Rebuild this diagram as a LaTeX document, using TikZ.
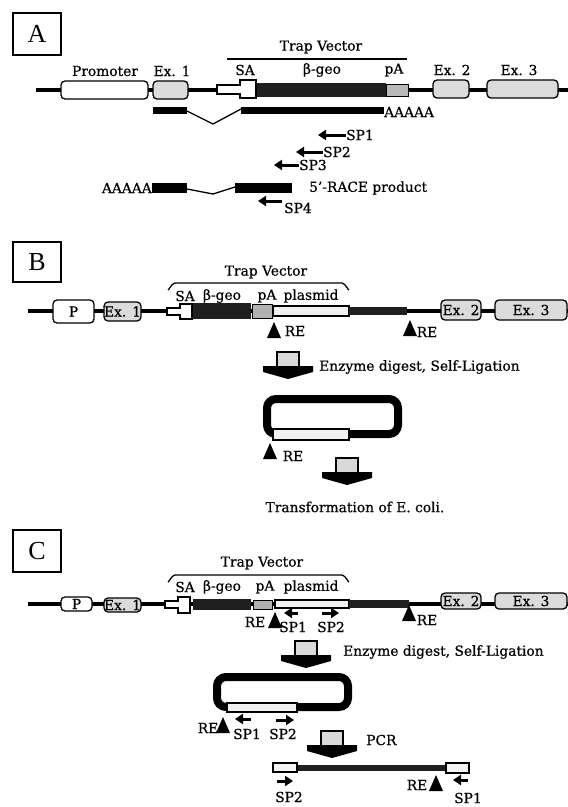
\documentclass[tikz,border=0pt]{standalone}
\usepackage{fontspec}
\setmainfont{DejaVu Serif}[FakeBold=0.6]
\newfontfamily\panelfont{Liberation Serif}
\usetikzlibrary{arrows.meta,positioning}

\tikzset{
  reSite/.pic={\fill[black] (0,0) -- (7,16) -- (-7,16) -- cycle;},
  blockDown/.pic={
    \fill[black] (-25,14) -- (25,14) -- (25,20) -- (0,27) -- (-25,20) -- cycle;
    \draw[fill=gray!30,line width=1.2pt] (-11,0) rectangle (11,15);
  }
}

\begin{document}
\begin{tikzpicture}[
  x=1pt,y=-1pt,
  font=\fontsize{13.8}{15}\selectfont,
  chrom/.style={line width=3.5pt},
  exon/.style={draw,line width=1.3pt,rounded corners=4pt,fill=gray!28,
               inner sep=0pt},
  promo/.style={exon,fill=white},
  sabox/.style={draw,line width=1.2pt,fill=white},
  geo/.style={fill=black!88},
  pa/.style={draw=black,line width=1pt,fill=gray!60},
  plas/.style={draw,line width=1.2pt,fill=gray!12},
  tag/.style={inner sep=0pt},
  panel/.style={draw,line width=1.2pt,minimum width=48pt,minimum height=42pt,
                font=\panelfont\fontsize{26}{28}\selectfont},
  primer/.style={line width=3pt,-{Triangle[length=8pt,width=10pt]}},
  loop/.style={line width=8pt,rounded corners=9pt}
]
\useasboundingbox (0,0) rectangle (568,807);

% panel A
\node[panel] (boxA) at (37,34) {A};
\node[tag] (trapA) at (321,47) {Trap Vector};
\draw[line width=1.3pt] (227,59) -- (407,59);
\draw[chrom] (36,90) -- (568,90);
\node[promo,minimum width=87pt,minimum height=18pt] (promA) at (104.5,90) {};
\node[exon,minimum width=35pt,minimum height=18pt] (exA1) at (170.5,90) {};
\node[exon,minimum width=36pt,minimum height=18pt] (exA2) at (451,89) {};
\node[exon,minimum width=71pt,minimum height=18pt] (exA3) at (522.5,89) {};
\draw[sabox] (217,85) -- (240,85) -- (240,80) -- (256,80) -- (256,98)
  -- (240,98) -- (240,94) -- (217,94) -- cycle;
\fill[geo] (257,83) rectangle (386,97);
\draw[pa,fill=gray!55] (386,84) rectangle (408,96);
\node[tag] (lbPromA) at (105,71) {Promoter};
\node[tag] (lbEx1A) at (172,71) {Ex. 1};
\node[tag] (lbSAA) at (245,70) {SA};
\node[tag] (lbGeoA) at (322,70) {β-geo};
\node[tag] (lbPaA) at (394,70) {pA};
\node[tag] (lbEx2A) at (452,70) {Ex. 2};
\node[tag] (lbEx3A) at (519,70) {Ex. 3};
% spliced transcript
\fill (153,107) rectangle (187,114);
\draw[line width=1.3pt] (187,111) -- (213,124) -- (241,109);
\fill (241,107) rectangle (384,114);
\node[tag,anchor=west] (polyA) at (384,112) {AAAAA};
\node[tag,anchor=west] (spA1) at (346,135) {SP1};
\node[tag,anchor=west] (spA2) at (323,152) {SP2};
\node[tag,anchor=west] (spA3) at (299,165) {SP3};
\draw[primer] (spA1.west) -- ++(-28,0);
\draw[primer] (spA2.west) -- ++(-27,0);
\draw[primer] (spA3.west) -- ++(-25,0);
% 5'-RACE product
\node[tag,anchor=east] (polyR) at (152,188) {AAAAA};
\fill (152,183) rectangle (187,193);
\draw[line width=1.3pt] (187,189) -- (213,194) -- (235,187);
\fill (235,183) rectangle (292,193);
\node[tag,anchor=west] (race) at (309,188) {5’-RACE product};
\node[tag,anchor=west] (spA4) at (284,208) {SP4};
\draw[primer] (282,201) -- (258,201);

% panel B
\node[panel,minimum height=40pt] (boxB) at (37,262) {B};
\node[tag] (trapB) at (266,272) {Trap Vector};
\draw[line width=1.3pt] (168,289) to[out=-90,in=180] (175,283) -- (342,283)
  to[out=0,in=-90] (349,289);
\node[tag] (lbSAB) at (185,296) {SA};
\node[tag] (lbGeoB) at (222,296) {β-geo};
\node[tag] (lbPaB) at (267,296) {pA};
\node[tag] (lbPlB) at (311,296) {plasmid};
\draw[chrom] (28,311) -- (568,311);
\node[promo,minimum width=41pt,minimum height=23pt] (promB) at (73.5,311.5) {P};
\node[exon,minimum width=35pt,minimum height=19pt] (exB1) at (122.5,311.5) {Ex. 1};
\draw[sabox] (167,308) -- (180,308) -- (180,304) -- (192,304) -- (192,319)
  -- (180,319) -- (180,315) -- (167,315) -- cycle;
\fill[geo] (193,303) rectangle (251,319);
\draw[pa] (252,304) rectangle (272,318);
\draw[plas] (273,306) rectangle (349,316);
\fill[geo] (349,307) rectangle (407,315);
\node[exon,minimum width=40pt,minimum height=20pt] (exB2) at (461,310) {Ex. 2};
\node[exon,minimum width=72pt,minimum height=20pt] (exB3) at (531,310) {Ex. 3};
\pic at (274,322) {reSite};
\node[tag] (reB1) at (295,331) {RE};
\pic at (410,320) {reSite};
\node[tag] (reB2) at (427,332) {RE};
\pic at (288,352) {blockDown};
\node[tag,anchor=west] (digB) at (319,367) {Enzyme digest, Self-Ligation};
% circularised clone
\draw[loop] (340,434) -- (398,434) -- (398,399) -- (267,399) -- (267,434)
  -- (285,434);
\draw[plas] (273,429) rectangle (349,440);
\pic at (270,443) {reSite};
\node[tag] (reB3) at (293,456) {RE};
\pic at (347,458) {blockDown};
\node[tag] (trans) at (355,507) {Transformation of E. coli.};

% panel C
\node[panel,minimum height=42pt] (boxC) at (37,551) {C};
\node[tag] (trapC) at (262,563) {Trap Vector};
\draw[line width=1.3pt] (168,581) to[out=-90,in=180] (175,575) -- (342,575)
  to[out=0,in=-90] (349,581);
\node[tag] (lbSAC) at (185,587) {SA};
\node[tag] (lbGeoC) at (222,587) {β-geo};
\node[tag] (lbPaC) at (265,587) {pA};
\node[tag] (lbPlC) at (311,587) {plasmid};
\draw[chrom] (28,604) -- (568,604);
\node[promo,minimum width=31pt,minimum height=14pt] (promC) at (76.5,604) {P};
\node[exon,minimum width=35pt,minimum height=14pt] (exC1) at (122.5,605) {Ex. 1};
\draw[sabox] (165,601) -- (178,601) -- (178,597) -- (190,597) -- (190,613)
  -- (178,613) -- (178,608) -- (165,608) -- cycle;
\fill[geo] (193,599) rectangle (251,610);
\draw[pa] (253,600) rectangle (272,609);
\draw[plas] (275,600) rectangle (349,608);
\fill[geo] (349,600) rectangle (409,608);
\node[exon,minimum width=40pt,minimum height=16pt] (exC2) at (461,601) {Ex. 2};
\node[exon,minimum width=72pt,minimum height=16pt] (exC3) at (531,601) {Ex. 3};
\pic at (275,612) {reSite};
\node[tag] (reC1) at (255,622) {RE};
\pic at (409,605) {reSite};
\node[tag] (reC2) at (427,620) {RE};
\node[tag] (spC1) at (293,627) {SP1};
\node[tag] (spC2) at (331,627) {SP2};
\draw[primer] (298,613) -- (284,613);
\draw[primer] (322,613) -- (339,613);
\pic at (306,641) {blockDown};
\node[tag,anchor=west] (digC) at (343,652) {Enzyme digest, Self-Ligation};
% circularised clone
\draw[loop] (290,707) -- (348,707) -- (348,677) -- (217,677) -- (217,707)
  -- (235,707);
\draw[plas] (227,703) rectangle (297,712);
\pic at (223,717) {reSite};
\node[tag] (reC3) at (208,728) {RE};
\node[tag] (spC3) at (247,734) {SP1};
\node[tag] (spC4) at (283,734) {SP2};
\draw[primer] (251,719) -- (235,719);
\draw[primer] (276,720) -- (294,720);
\pic at (332,731) {blockDown};
\node[tag,anchor=west] (pcr) at (366,740) {PCR};
% PCR product
\fill[geo] (297,765) rectangle (446,771);
\draw[plas,fill=gray!8] (273,763) rectangle (297,772);
\draw[plas,fill=gray!8] (446,763) rectangle (469,773);
\pic at (436,775) {reSite};
\node[tag] (reC4) at (417,785) {RE};
\node[tag] (spC5) at (468,798) {SP1};
\node[tag] (spC6) at (289,797) {SP2};
\draw[primer] (468,780) -- (453,780);
\draw[primer] (277,781) -- (293,781);
\end{tikzpicture}
\end{document}
